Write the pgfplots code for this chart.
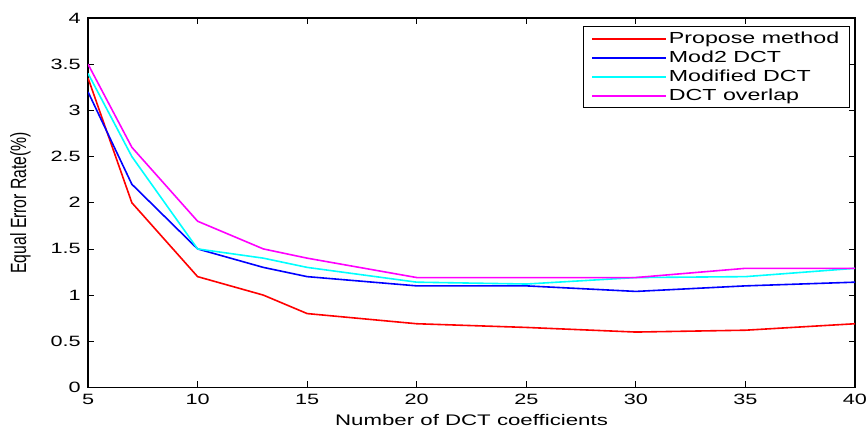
\documentclass[border=0pt]{standalone}
\usepackage{fontspec}
\setmainfont{Liberation Sans}
\newfontfamily\wide[FakeStretch=1.45]{Liberation Sans}
\usepackage{graphicx}
\usepackage{pgfplots}
\pgfplotsset{compat=1.18}
\definecolor{red}{RGB}{255,0,0}
\definecolor{blue}{RGB}{0,0,255}
\definecolor{cyan}{RGB}{0,255,255}
\definecolor{magenta}{RGB}{255,0,255}
\newcommand{\wx}[1]{\scalebox{1.45}[1]{#1}}

\begin{document}
\begin{tikzpicture}[x=0.75pt,y=0.75pt]
\begin{axis}[
    scale only axis,
    width=575pt,
    height=277pt,
    xmin=5, xmax=40,
    ymin=0, ymax=4,
    xtick={5,10,...,40},
    ytick={0,0.5,...,4},
    tick align=inside,
    major tick length=4.5pt,
    tick style={black, line width=0.6pt},
    axis line style={line width=0.8pt},
    /pgf/number format/assume math mode=true,
    ticklabel style={font=\wide\fontsize{11.2}{12}\selectfont},
    yticklabel style={/pgf/number format/fixed, xshift=-2pt},
    xticklabel style={yshift=-1.5pt},
    xlabel={\wx{Number of DCT coefficients}},
    ylabel={\scalebox{1}[1.4]{Equal Error Rate(\%)}},
    xlabel style={font=\fontsize{11.5}{12}\selectfont, yshift=0pt},
    ylabel style={font=\fontsize{11.8}{12}\selectfont, yshift=8pt},
    legend style={at={(rel axis cs:0.994,0.978)}, anchor=north east,
        font=\fontsize{12}{15.75}\selectfont, draw=black, line width=0.8pt,
        row sep=0pt, inner xsep=6pt, inner ysep=2pt},
    legend cell align=left,
    legend image code/.code={\fill[#1, draw=none] (-4pt,-0.75pt) rectangle (52pt,0.75pt);},
    every axis plot/.append style={line width=1.2pt},
]
\addplot[red] coordinates {
    (5,3.35) (7,2.0) (10,1.2) (13,1.0) (15,0.8) (20,0.69) (25,0.65) (30,0.6) (35,0.62) (40,0.69)
};
\addlegendentry{\wx{Propose method}}
\addplot[blue] coordinates {
    (5,3.2) (7,2.2) (10,1.5) (13,1.3) (15,1.2) (20,1.1) (25,1.1) (30,1.04) (35,1.1) (40,1.14)
};
\addlegendentry{\wx{Mod2 DCT}}
\addplot[cyan] coordinates {
    (5,3.4) (7,2.5) (10,1.5) (13,1.4) (15,1.3) (20,1.14) (25,1.12) (30,1.19) (35,1.2) (40,1.29)
};
\addlegendentry{\wx{Modified DCT}}
\addplot[magenta] coordinates {
    (5,3.5) (7,2.6) (10,1.8) (13,1.5) (15,1.4) (20,1.19) (25,1.19) (30,1.19) (35,1.29) (40,1.29)
};
\addlegendentry{\wx{DCT overlap}}
\end{axis}
\pgfresetboundingbox
\useasboundingbox ([shift={(-66pt,-29.25pt)}]current axis.south west)
    rectangle ([shift={(9pt,13.5pt)}]current axis.north east);
\end{tikzpicture}
\end{document}
